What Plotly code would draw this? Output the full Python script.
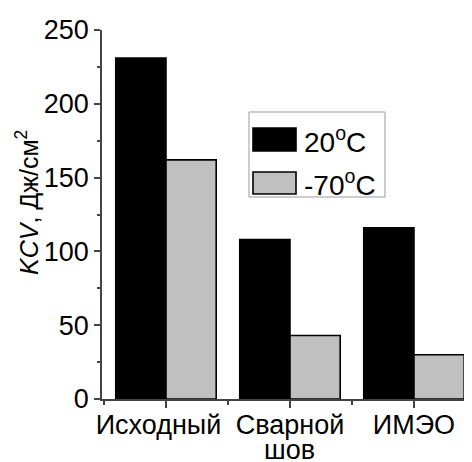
import plotly.graph_objects as go

categories = ["Исходный\u00a0\u00a0", "Сварной", "ИМЭО"]
category_second_line = ["", "шов", ""]
x_pos = [0, 1, 2]
values_20 = [231, 108, 116]
values_m70 = [162, 43, 30]
series_names = ["20<sup>o</sup>C", "-70<sup>o</sup>C"]
series_colors = ["#000000", "#c0c0c0"]
y_ticks = [0, 50, 100, 150, 200, 250]

OFF = 8  # page body margin
W, H = 472 - OFF, 462 - OFF
ML, MT = 102 - OFF, 30 - OFF
PLOT_BOTTOM = 399 - OFF
MR, MB = 0, H - PLOT_BOTTOM
PW, PH = W - ML - MR, H - MT - MB
FONT = "Liberation Sans, Arial, sans-serif"


def px_x(p):
    return (p - OFF - ML) / PW


def px_y(p):
    return (PLOT_BOTTOM - (p - OFF)) / PH


fig = go.Figure()
for name, vals, col in zip(series_names, [values_20, values_m70], series_colors):
    fig.add_trace(go.Bar(
        x=x_pos, y=vals, name=name,
        marker=dict(color=col, line=dict(color="#000000", width=1.6)),
        showlegend=False,
    ))

fig.update_layout(
    width=W, height=H,
    margin=dict(l=ML, r=MR, t=MT, b=MB, pad=0, autoexpand=False),
    paper_bgcolor="white", plot_bgcolor="white",
    barmode="group", bargap=0.19, bargroupgap=0,
    font=dict(family=FONT, size=27, color="#000000"),
)

fig.update_xaxes(
    automargin=False,
    range=[-0.516, 2.468],
    tickvals=x_pos, ticktext=categories, tickangle=0,
    showline=True, linecolor="#444444", linewidth=1.5,
    ticks="outside", ticklen=7, tickwidth=1.5, tickcolor="#444444",
    minor=dict(tickvals=[-0.5, 0.5, 1.5], ticks="outside", ticklen=4,
               tickwidth=1.5, tickcolor="#444444"),
    showgrid=False, zeroline=False,
    tickfont=dict(size=27, family=FONT),
    ticklabelstandoff=-6,
)
fig.update_yaxes(
    automargin=False,
    range=[0, 250],
    tickvals=y_ticks,
    showline=True, linecolor="#444444", linewidth=1.5,
    ticks="outside", ticklen=6, tickwidth=1.5, tickcolor="#444444",
    minor=dict(dtick=25, tick0=0, ticks="outside", ticklen=3,
               tickwidth=1.5, tickcolor="#444444"),
    showgrid=False, zeroline=False,
    tickfont=dict(size=27, family=FONT),
)

# second line of category labels
for xv, txt in zip(x_pos, category_second_line):
    if txt:
        fig.add_annotation(x=xv, y=px_y(450), xref="x", yref="paper",
                           text=txt, showarrow=False, xanchor="center",
                           yanchor="middle", height=22, valign="middle",
                           font=dict(size=27, family=FONT))

# y-axis title
fig.add_annotation(
    x=px_x(27), y=px_y(203), xref="paper", yref="paper",
    text="<i>KCV</i>, Дж/см<sup>2</sup>", textangle=-90,
    showarrow=False, font=dict(size=25, family=FONT),
    xanchor="center", yanchor="middle",
)

# custom legend box
fig.add_shape(type="rect", xref="paper", yref="paper",
              x0=px_x(249), x1=px_x(385), y0=px_y(197), y1=px_y(112),
              line=dict(color="#999999", width=1), fillcolor="white")
sw_rows = [(128, 151), (172, 194)]
for (t, b), name, col in zip(sw_rows, series_names, series_colors):
    fig.add_shape(type="rect", xref="paper", yref="paper",
                  x0=px_x(253), x1=px_x(296), y0=px_y(b), y1=px_y(t),
                  line=dict(color="#000000", width=1.6), fillcolor=col)
    fig.add_annotation(x=px_x(302), y=px_y((t + b) / 2), xref="paper", yref="paper",
                       text=name, showarrow=False, xanchor="left", yanchor="middle",
                       font=dict(size=28, family=FONT))

fig.write_html("out.html")
